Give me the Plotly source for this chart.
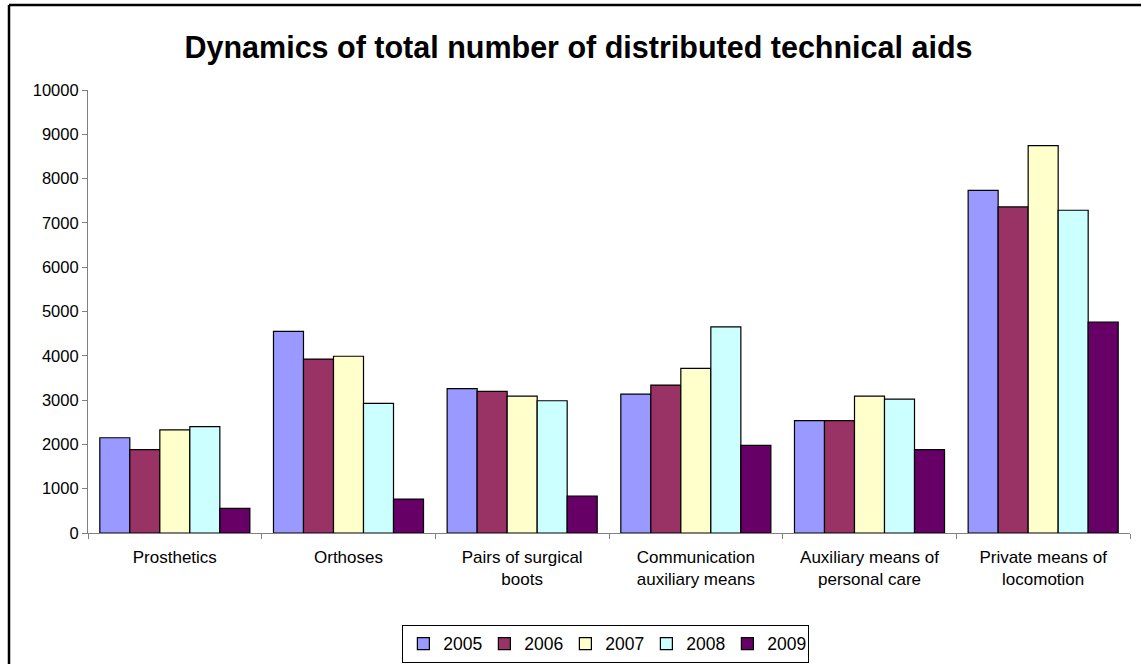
import plotly.graph_objects as go

categories = ["Prosthetics", "Orthoses", "Pairs of surgical<br>boots",
              "Communication<br>auxiliary means", "Auxiliary means of<br>personal care",
              "Private means of<br>locomotion"]
years = ["2005", "2006", "2007", "2008", "2009"]
v2005 = [2150, 4550, 3260, 3135, 2535, 7735]
v2006 = [1880, 3925, 3195, 3340, 2535, 7360]
v2007 = [2330, 3990, 3090, 3715, 3090, 8745]
v2008 = [2400, 2925, 2985, 4655, 3020, 7285]
v2009 = [555, 765, 835, 1980, 1880, 4760]
series = [v2005, v2006, v2007, v2008, v2009]
colors = ["#9999FF", "#993366", "#FFFFCC", "#CCFFFF", "#660066"]
yticks = [0, 1000, 2000, 3000, 4000, 5000, 6000, 7000, 8000, 9000, 10000]
yticklabels = [str(t) for t in yticks]

FONT = "Arial, Liberation Sans, sans-serif"

fig = go.Figure()
for y, vals, c in zip(years, series, colors):
    fig.add_trace(go.Bar(x=categories, y=vals, name=y,
                         marker=dict(color=c, line=dict(color="#000000", width=1.2))))

fig.update_layout(
    width=1141, height=664,
    margin=dict(l=88, r=11, t=90, b=131, autoexpand=False),
    paper_bgcolor="white", plot_bgcolor="white",
    barmode="group", bargap=0.136, bargroupgap=0,
    title=dict(text="<b>Dynamics of total number of distributed technical aids</b>",
               x=0.507, xanchor="center", y=0.929, yanchor="middle",
               font=dict(family=FONT, size=30.5, color="black")),
    font=dict(family=FONT, color="black"),
    legend=dict(orientation="h", x=0.497, xanchor="center", y=-0.207, yanchor="top",
                bordercolor="black", borderwidth=1, font=dict(family=FONT, size=17.5),
                entrywidth=36, entrywidthmode="pixels", itemwidth=30,
                traceorder="normal"),
    showlegend=True,
)
fig.update_xaxes(showline=True, linecolor="#808080", linewidth=1.2, automargin=False,
                 ticks="outside", tickson="boundaries", ticklen=5, tickcolor="#808080",
                 ticklabelstandoff=8,
                 tickfont=dict(family=FONT, size=17), showgrid=False)
fig.update_yaxes(range=[0, 10000], tickvals=yticks, ticktext=yticklabels, automargin=False,
                 showline=True, linecolor="#808080",
                 linewidth=1.2, ticks="outside", ticklen=5, tickcolor="#808080",
                 tickfont=dict(family=FONT, size=16.5), showgrid=False, zeroline=False)

# outer frame (left and top edges visible)
fig.add_shape(type="line", xref="paper", yref="paper",
              x0=(9 - 88) / 1042, x1=(9 - 88) / 1042, y0=(533 - 664) / 443, y1=(533 - 5) / 443,
              line=dict(color="black", width=2.5))
fig.add_shape(type="line", xref="paper", yref="paper",
              x0=(9 - 88) / 1042, x1=(1141 - 88) / 1042, y0=(533 - 5) / 443, y1=(533 - 5) / 443,
              line=dict(color="black", width=2.5))

fig.write_html("out.html")
